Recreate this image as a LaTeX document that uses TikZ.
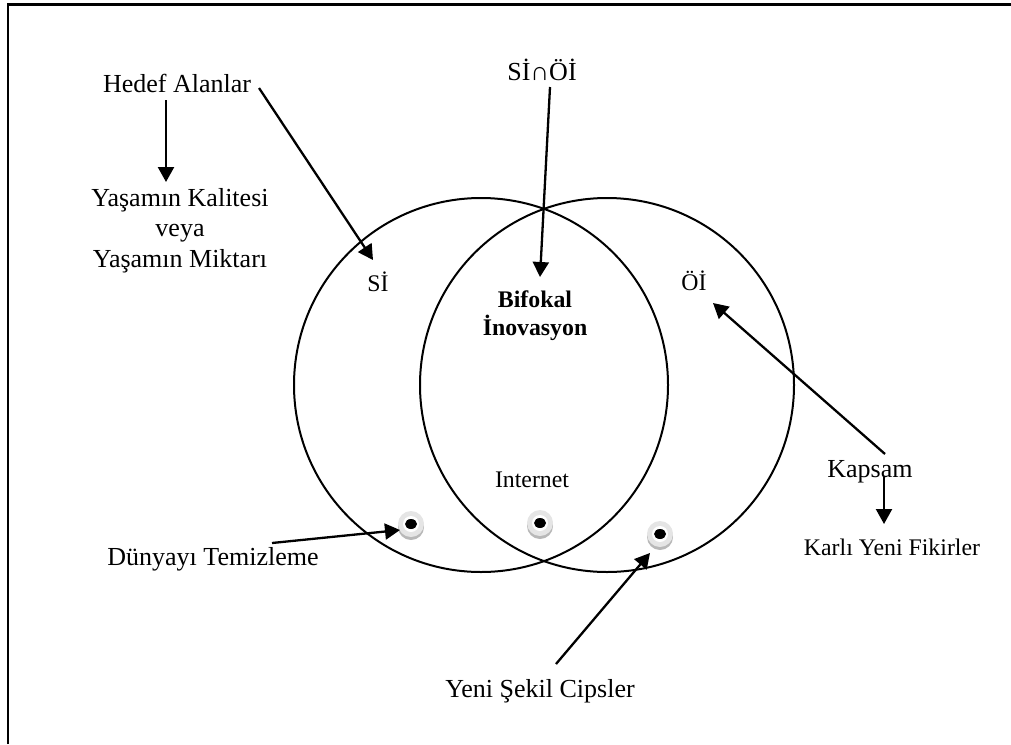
\documentclass[tikz,border=0pt]{standalone}
\usepackage{fontspec}
\setmainfont{Liberation Serif}
\usetikzlibrary{arrows.meta}
\begin{document}
\begin{tikzpicture}[x=1pt,y=-1pt,
  bigtxt/.style={inner sep=0pt,anchor=base,font=\fontsize{26}{30}\selectfont},
  smalltxt/.style={inner sep=0pt,anchor=base,font=\fontsize{23.8}{28}\selectfont},
  boldtxt/.style={inner sep=0pt,anchor=base,font=\fontsize{23.8}{28}\selectfont\bfseries},
  ring/.style={line width=2pt},
  pointer/.style={line width=2.3pt,-{Triangle[length=15pt,width=16pt]}},
  knob/.pic={
    \fill[black!28] (0,3) circle (13pt);
    \fill[black!10] (0,0) circle (13pt);
    \fill[white] (0,0) circle (8pt);
    \fill[black] (0,0) ellipse (6pt and 5pt);
  }]
\useasboundingbox (0,0) rectangle (1011,744);
% open frame: top and left edges only
\draw[line width=2.5pt] (8,744) -- (8,4.5) -- (1011,4.5);

% the two overlapping sets
\draw[ring] (481,385) circle (187pt);
\draw[ring] (607,385) circle (187pt);

% labels
\node[bigtxt] (hedef) at (177,92) {Hedef Alanlar};
\node[bigtxt] (kal1) at (180,206) {Yaşamın Kalitesi};
\node[bigtxt] (kal2) at (180,236.5) {veya};
\node[bigtxt] (kal3) at (180,267) {Yaşamın Miktarı};
\node[bigtxt] (kesisim) at (542,80) {Sİ∩Öİ};
\node[smalltxt] (si) at (378,291) {Sİ};
\node[smalltxt] (oi) at (694,290) {Öİ};
\node[boldtxt] (bif1) at (535,307) {Bifokal};
\node[boldtxt] (bif2) at (535,335) {İnovasyon};
\node[smalltxt] (internet) at (532,487) {Internet};
\node[bigtxt] (kapsam) at (870,477) {Kapsam};
\node[smalltxt] (karli) at (892,555) {Karlı Yeni Fikirler};
\node[bigtxt] (dunya) at (213,565) {Dünyayı Temizleme};
\node[bigtxt] (cips) at (540,697) {Yeni Şekil Cipsler};

% example markers
\pic (k1) at (411,524) {knob};
\pic (k2) at (540,523) {knob};
\pic (k3) at (660,534) {knob};

% arrow ends
\coordinate (hedefS) at (166,100);
\coordinate (hedefE) at (166,182);
\coordinate (hedefD) at (259,88);
\coordinate (siE) at (373,260);
\coordinate (kesS) at (550,87);
\coordinate (kesE) at (540,277);
\coordinate (kapS) at (885,454);
\coordinate (oiE) at (713,303);
\coordinate (kapD) at (884,477);
\coordinate (karE) at (884,524);
\coordinate (dunS) at (272,543);
\coordinate (k1E) at (400,530);
\coordinate (cipS) at (556,664);
\coordinate (k3E) at (650,553);

\draw[pointer] (hedefS) -- (hedefE);
\draw[pointer] (hedefD) -- (siE);
\draw[pointer] (kesS) -- (kesE);
\draw[pointer] (kapS) -- (oiE);
\draw[pointer] (kapD) -- (karE);
\draw[pointer] (dunS) -- (k1E);
\draw[pointer] (cipS) -- (k3E);
\end{tikzpicture}
\end{document}
